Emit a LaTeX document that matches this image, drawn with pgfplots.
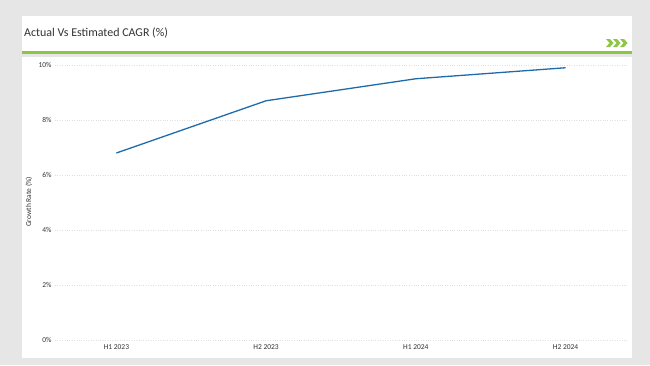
\documentclass[border=0pt]{standalone}
\usepackage{fontspec}
\setmainfont{Carlito}
\usepackage{pgfplots}
\pgfplotsset{compat=1.18}
\definecolor{bg}{HTML}{E6E6E6}
\definecolor{grn}{HTML}{8DC641}
\definecolor{lineblue}{HTML}{1F6BAA}
\definecolor{txt}{HTML}{333333}
\begin{document}
\begin{tikzpicture}[x=1bp,y=1bp]
\useasboundingbox (0,0) rectangle (650,365);
\fill[bg] (0,0) rectangle (650,365);
\fill[white] (21.7,313) rectangle (632,349);
\fill[white] (21.7,7) rectangle (632,308.5);
\fill[grn] (21.7,311.5) rectangle (632,314);
\node[anchor=west,font=\fontsize{12}{14}\selectfont,text=txt,inner sep=0] at (24,332) {Actual Vs Estimated CAGR (\%)};
\foreach \dx in {0,7,14}{
  \fill[grn] (606+\dx,326) -- (610+\dx,326) -- (613.5+\dx,322) -- (610+\dx,318) -- (606+\dx,318) -- (609.5+\dx,322) -- cycle;
}
\begin{axis}[
  at={(55bp,25bp)}, anchor=south west,
  scale only axis, width=572bp, height=275bp,
  xmin=-0.41, xmax=3.41, ymin=0, ymax=10,
  axis line style={draw=none},
  xtick={0,1,2,3},
  xticklabels={H1 2023,H2 2023,H1 2024,H2 2024},
  ytick={0,2,4,6,8,10},
  yticklabel={\pgfmathprintnumber{\tick}\%},
  /pgf/number format/assume math mode=true,
  ticklabel style={font=\fontsize{7.5}{8}\selectfont, text=txt},
  xticklabel style={yshift=-1bp},
  major tick length=0pt,
  ymajorgrids, grid style={dotted, gray!25, line width=0.5pt},
  clip=false,
]
\addplot[lineblue, line width=1.3pt] coordinates {(0,6.8) (1,8.7) (2,9.5) (3,9.9)};
\end{axis}
\node[rotate=90,font=\fontsize{7.5}{8}\selectfont,text=txt] at (29,163) {Growth Rate (\%)};
\end{tikzpicture}
\end{document}
